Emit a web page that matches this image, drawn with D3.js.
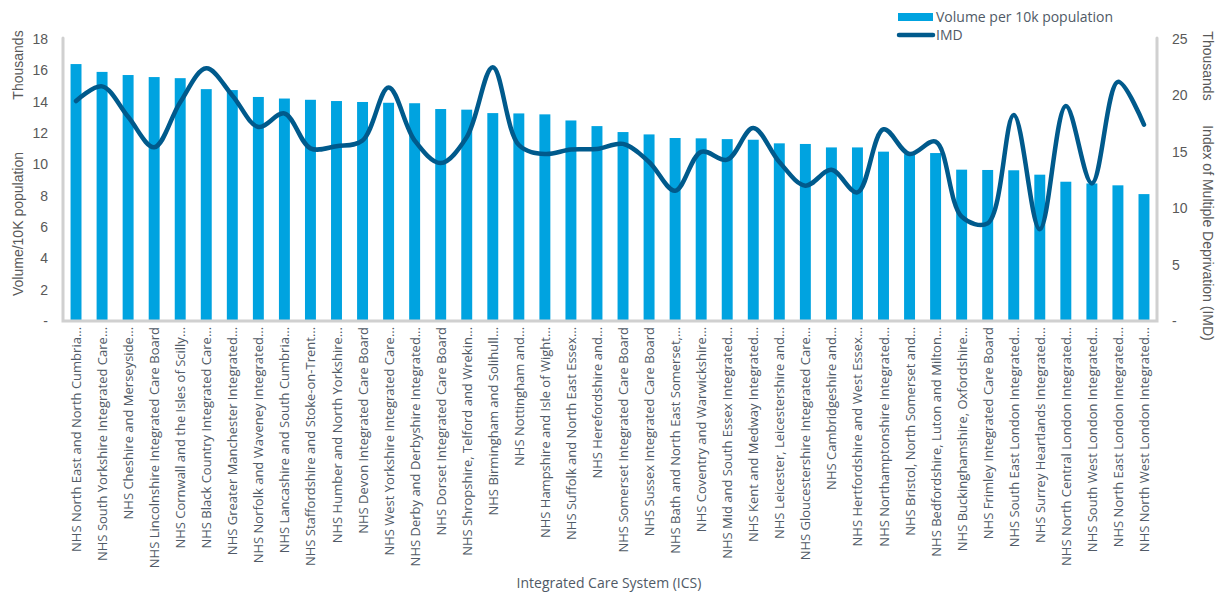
<!DOCTYPE html>
<html><head><meta charset="utf-8">
<script src="https://cdn.jsdelivr.net/npm/d3@7"></script>
<style>body{margin:0;background:#fff}</style>
</head><body>
<svg id="c" width="1220" height="592"></svg>
<script>
const categories = [
"NHS North East and North Cumbria…","NHS South Yorkshire Integrated Care…","NHS Cheshire and Merseyside…","NHS Lincolnshire Integrated Care Board","NHS Cornwall and the Isles of Scilly…","NHS Black Country Integrated Care…","NHS Greater Manchester Integrated…","NHS Norfolk and Waveney Integrated…","NHS Lancashire and South Cumbria…","NHS Staffordshire and Stoke-on-Trent…","NHS Humber and North Yorkshire…","NHS Devon Integrated Care Board","NHS West Yorkshire Integrated Care…","NHS Derby and Derbyshire Integrated…","NHS Dorset Integrated Care Board","NHS Shropshire, Telford and Wrekin…","NHS Birmingham and Solihull…","NHS Nottingham and…","NHS Hampshire and Isle of Wight…","NHS Suffolk and North East Essex…","NHS Herefordshire and…","NHS Somerset Integrated Care Board","NHS Sussex Integrated Care Board","NHS Bath and North East Somerset,…","NHS Coventry and Warwickshire…","NHS Mid and South Essex Integrated…","NHS Kent and Medway Integrated…","NHS Leicester, Leicestershire and…","NHS Gloucestershire Integrated Care…","NHS Cambridgeshire and…","NHS Hertfordshire and West Essex…","NHS Northamptonshire Integrated…","NHS Bristol, North Somerset and…","NHS Bedfordshire, Luton and Milton…","NHS Buckinghamshire, Oxfordshire…","NHS Frimley Integrated Care Board","NHS South East London Integrated…","NHS Surrey Heartlands Integrated…","NHS North Central London Integrated…","NHS South West London Integrated…","NHS North East London Integrated…","NHS North West London Integrated…"];
// thousands
const volume = [16.4,15.9,15.7,15.57,15.5,14.8,14.74,14.3,14.2,14.12,14.04,13.98,13.93,13.9,13.53,13.49,13.27,13.25,13.19,12.8,12.44,12.06,11.91,11.68,11.66,11.61,11.57,11.34,11.3,11.08,11.08,10.81,10.65,10.72,9.66,9.64,9.62,9.34,8.89,8.78,8.66,8.1];
const imd = [19.5,20.8,18.1,15.4,19.4,22.4,20.0,17.2,18.4,15.3,15.5,16.0,20.7,16.0,14.0,16.3,22.5,15.6,14.8,15.2,15.25,15.7,14.1,11.55,15.0,14.3,17.1,14.1,12.0,13.4,11.4,17.0,14.8,15.9,9.25,8.66,18.26,8.13,19.06,12.2,21.2,17.4];
const leftTicks = [0,2,4,6,8,10,12,14,16,18];
const rightTicks = [0,5,10,15,20,25];

const svg = d3.select("#c");
const L=63, R=1157, T=39, B=321;
const grey="#595959", labCol="#505a66", axisCol="#d0d0d0", barCol="#00a3e0", lineCol="#005a8c";
const x = d3.scaleBand().domain(categories).range([L,R]).paddingInner(0.58).paddingOuter(0.29);
const yL = d3.scaleLinear().domain([0,18]).range([B,T]);
const yR = d3.scaleLinear().domain([0,25]).range([B,T]);

svg.append("g").selectAll("rect").data(volume).join("rect")
  .attr("x",(d,i)=>x(categories[i])).attr("width",x.bandwidth())
  .attr("y",d=>yL(d)).attr("height",d=>B-yL(d)).attr("fill",barCol);

const line = d3.line().x((d,i)=>x(categories[i])+x.bandwidth()/2).y(d=>yR(d)).curve(d3.curveCatmullRom.alpha(0.5));
svg.append("path").attr("d",line(imd)).attr("fill","none").attr("stroke",lineCol).attr("stroke-width",4.5).attr("stroke-linecap","round");

// axis lines
const ax = svg.append("g").attr("stroke",axisCol).attr("stroke-width",3).attr("stroke-linecap","round").attr("fill","none");
ax.append("path").attr("d",`M${L},${T-1}V${B}H${R}V${T-1}`);

// left ticks
const gl = svg.append("g").attr("transform",`translate(48,0)`).call(d3.axisLeft(yL).tickValues(leftTicks).tickSize(0).tickFormat(d=>d===0?"-":d));
gl.select(".domain").remove();
gl.selectAll("text").attr("fill",grey).style("font-family","Liberation Sans, Arial").style("font-size","14px").attr("x",0);
const gr = svg.append("g").attr("transform",`translate(1172,0)`).call(d3.axisRight(yR).tickValues(rightTicks).tickSize(0).tickFormat(d=>d===0?"-":d));
gr.select(".domain").remove();
gr.selectAll("text").attr("fill",grey).style("font-family","Liberation Sans, Arial").style("font-size","14px").attr("x",0);

// x labels
svg.append("g").selectAll("text").data(categories).join("text")
  .attr("transform",(d,i)=>`translate(${x(d)+x.bandwidth()/2+5},327) rotate(-90)`)
  .attr("text-anchor","end").attr("fill",labCol)
  .style("font-family","Open Sans").style("font-size","13px").text(d=>d);

// axis titles
const tt = (txt,xx,yy,rot,ff,fs)=>svg.append("text").attr("transform",`translate(${xx},${yy}) rotate(${rot})`).attr("text-anchor","middle").attr("fill",grey).style("font-family",ff).style("font-size",fs).text(txt);
tt("Thousands",23,65,-90,"Liberation Sans, Arial","14px");
tt("Volume/10K population",23,224,-90,"Liberation Sans, Arial","14px");
tt("Thousands",1203,66,90,"Liberation Sans, Arial","14px");
tt("Index of Multiple Deprivation (IMD)",1203,233,90,"Liberation Sans, Arial","14px");
svg.append("text").attr("x",609).attr("y",588).attr("text-anchor","middle").attr("fill",labCol).style("font-family","Open Sans").style("font-size","14px").text("Integrated Care System (ICS)");

// legend
const lg = svg.append("g");
lg.append("rect").attr("x",898).attr("y",13).attr("width",35).attr("height",8).attr("fill",barCol);
lg.append("line").attr("x1",899).attr("x2",933).attr("y1",35).attr("y2",35).attr("stroke",lineCol).attr("stroke-width",4.5).attr("stroke-linecap","round");
lg.append("text").attr("x",936).attr("y",22).attr("fill",labCol).style("font-family","Open Sans").style("font-size","14px").text("Volume per 10k population");
lg.append("text").attr("x",936).attr("y",40).attr("fill",labCol).style("font-family","Open Sans").style("font-size","14px").text("IMD");
</script>
</body></html>
